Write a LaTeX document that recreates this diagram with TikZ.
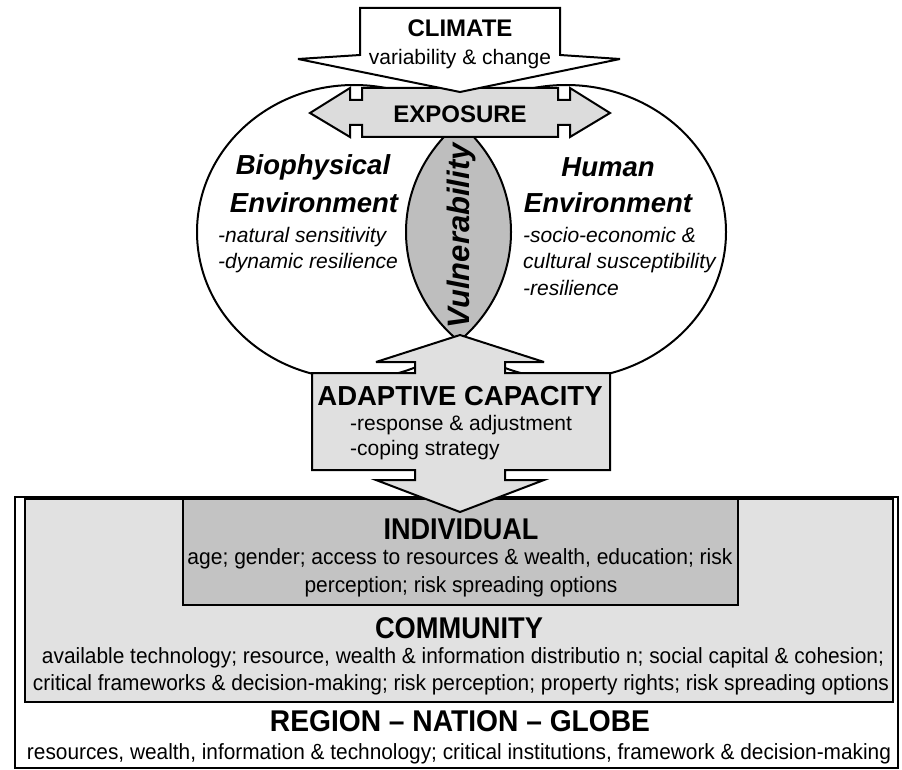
\documentclass[tikz,border=0pt]{standalone}
\usepackage{fontspec}
\setmainfont{Liberation Sans}
\usepackage{graphicx}
\definecolor{expgrey}{HTML}{DCDCDC}
\definecolor{lensgrey}{HTML}{BEBEBE}
\definecolor{adgrey}{HTML}{E0E0E0}
\definecolor{indgrey}{HTML}{C3C3C3}
\definecolor{comgrey}{HTML}{E1E1E1}
\newcommand{\fs}[1]{\fontsize{#1}{#1}\selectfont}
\newcommand{\fitw}[2]{\resizebox{#1}{\height}{#2}}
\begin{document}
\begin{tikzpicture}[x=1pt,y=-1pt,
  txt/.style={inner sep=0pt, anchor=base},
  txtw/.style={inner sep=0pt, anchor=base west},
  outl/.style={draw=black, line width=2pt, line join=miter, miter limit=6},
  boxline/.style={draw=black, line width=2.5pt},
]
\useasboundingbox (0,0) rectangle (902,770);
% bottom boxes
\draw[line width=1.2pt, fill=white] (15,497) rectangle (898,768);
\draw[boxline, fill=comgrey] (25,499) rectangle (893,702);
\draw[boxline, fill=indgrey] (183,499) rectangle (738,605);
% environments and vulnerability lens
\begin{scope}
  \clip (354,232) ellipse [x radius=157, y radius=147];
  \fill[lensgrey] (566,232) ellipse [x radius=160, y radius=147];
\end{scope}
\draw[line width=2pt] (354,232) ellipse [x radius=157, y radius=147];
\draw[line width=2pt] (566,232) ellipse [x radius=160, y radius=147];
% exposure double arrow
\draw[outl, fill=expgrey] (362,88) -- (558,88) -- (558,100) -- (570,100) -- (570,88) -- (610,113) -- (570,137) -- (570,125) -- (558,125) -- (558,137) -- (362,137) -- (362,125) -- (350,125) -- (350,137) -- (310,113) -- (350,88) -- (350,100) -- (362,100) -- cycle;
% climate arrow
\draw[outl, fill=white] (360,8) -- (560,8) -- (560,55) -- (620,59) -- (460,92) -- (298,59) -- (360,55) -- cycle;
% adaptive capacity double arrow
\draw[outl, fill=adgrey] (460,335) -- (544,362) -- (505,362) -- (505,373) -- (610,373) -- (610,470) -- (505,470) -- (505,480) -- (544,480) -- (460,512) -- (376,480) -- (415,480) -- (415,470) -- (312,470) -- (312,373) -- (415,373) -- (415,362) -- (376,362) -- cycle;
% texts
\node[txt, font=\fs{24}\bfseries] (climate) at (460,37) {CLIMATE};
\node[txt, font=\fs{21}] (climsub) at (460,65) {variability \& change};
\node[txt, font=\fs{24}\bfseries] (exposure) at (460,123) {EXPOSURE};
\node[txt, font=\fs{27.5}\bfseries\itshape] (bio1) at (313,175) {Biophysical};
\node[txt, font=\fs{27.5}\bfseries\itshape] (bio2) at (314,213) {Environment};
\node[txtw, font=\fs{21}\itshape] (bio3) at (218,242) {-natural sensitivity};
\node[txtw, font=\fs{21}\itshape] (bio4) at (218,268) {-dynamic resilience};
\node[txt, font=\fs{27.5}\bfseries\itshape] (hum1) at (608,177) {Human};
\node[txt, font=\fs{27.5}\bfseries\itshape] (hum2) at (608,213) {Environment};
\node[txtw, font=\fs{21}\itshape] (hum3) at (523,242) {-socio-economic \&};
\node[txtw, font=\fs{21}\itshape] (hum4) at (523,268) {cultural susceptibility};
\node[txtw, font=\fs{21}\itshape] (hum5) at (523,295) {-resilience};
\node[inner sep=0pt, rotate=90, font=\fs{31}\bfseries\itshape] (vuln) at (461,236) {Vulnerability};
\node[txt, font=\fs{27.5}\bfseries] (adapt) at (460,405) {ADAPTIVE CAPACITY};
\node[txtw, font=\fs{21}] (adapt1) at (350,430) {-response \& adjustment};
\node[txtw, font=\fs{21}] (adapt2) at (350,455) {-coping strategy};
\node[txt, font=\fs{30}\bfseries] (ind) at (461,539) {\fitw{155pt}{INDIVIDUAL}};
\node[txt, font=\fs{22}] (ind1) at (460,564) {\fitw{545pt}{age; gender; access to resources \& wealth, education; risk}};
\node[txt, font=\fs{22}] (ind2) at (461,592) {\fitw{313pt}{perception; risk spreading options}};
\node[txt, font=\fs{30}\bfseries] (com) at (459,638) {\fitw{168pt}{COMMUNITY}};
\node[txt, font=\fs{22}] (com1) at (463,663) {\fitw{842pt}{available technology; resource, wealth \& information distributio n; social capital \& cohesion;}};
\node[txt, font=\fs{22}] (com2) at (461,690) {\fitw{856pt}{critical frameworks \& decision-making; risk perception; property rights; risk spreading options}};
\node[txt, font=\fs{30}\bfseries] (reg) at (460,731) {\fitw{380pt}{REGION – NATION – GLOBE}};
\node[txt, font=\fs{22}] (reg1) at (459,759) {\fitw{864pt}{resources, wealth, information \& technology; critical institutions, framework \& decision-making}};
\end{tikzpicture}
\end{document}
